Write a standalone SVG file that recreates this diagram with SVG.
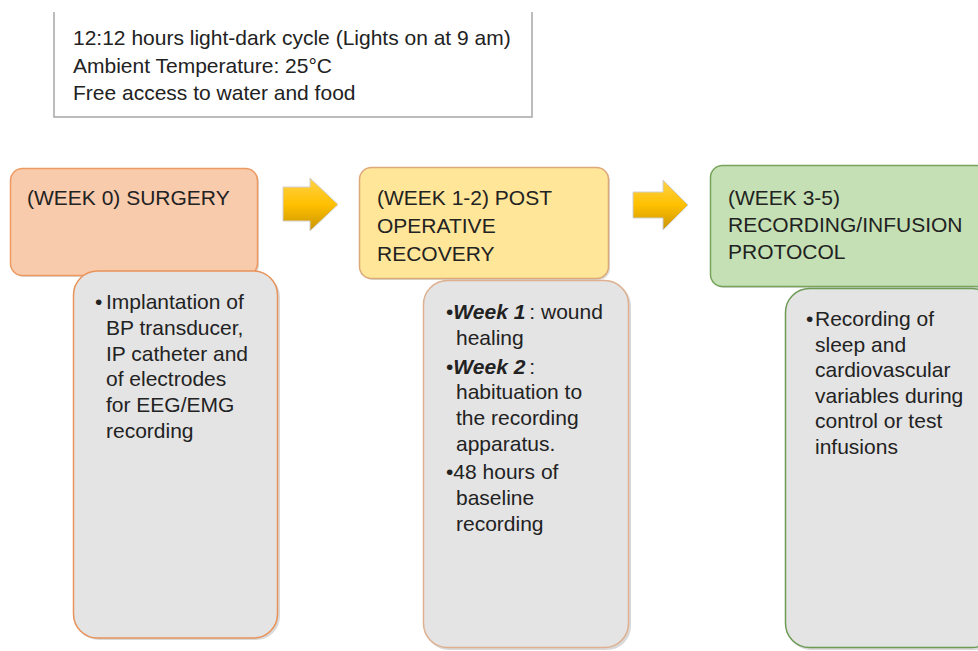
<svg xmlns="http://www.w3.org/2000/svg" width="978" height="651" viewBox="0 0 978 651">
  <defs>
    <linearGradient id="arrowGrad" x1="0" y1="0" x2="0" y2="1">
      <stop offset="0" stop-color="#ffd24a"/>
      <stop offset="0.5" stop-color="#ffc000"/>
      <stop offset="1" stop-color="#c99400"/>
    </linearGradient>
    <style>
      text { font-family: "Liberation Sans", Arial, sans-serif; fill: #222222; }
      .hdr { font-size: 21px; }
      .body { font-size: 21px; }
      .info { font-size: 21px; }
      .shadow { fill: #bfbfbf; opacity: 0.6; }
      .gray { fill: #e4e4e4; stroke-width: 1.5; }
      .arrow { fill: url(#arrowGrad); stroke: #d0d0d0; stroke-width: 1; }
      .bi { font-weight: bold; font-style: italic; }
    </style>
  </defs>
  <rect width="978" height="651" fill="#ffffff"/>

  <g id="conditions">
    <path d="M54,12 V117 H532 V12" fill="#ffffff" stroke="#a6a6a6" stroke-width="1.5"/>
    <text class="info" x="73" y="45">12:12 hours light-dark cycle (Lights on at 9 am)</text>
    <text class="info" x="73" y="73">Ambient Temperature: 25°C</text>
    <text class="info" x="73" y="100">Free access to water and food</text>
  </g>

  <g id="connectors">
    <path class="arrow" d="M283,187 H310 V178 L338,204.5 L310,231 V221 H283 Z"/>
    <path class="arrow" d="M633,192 H663 V180 L688,205 L663,230 V218 H633 Z"/>
  </g>

  <g id="week0-header">
    <rect x="12" y="170" width="247" height="107" rx="12" class="shadow"/>
    <rect x="10.5" y="168.5" width="247" height="107" rx="12" fill="#f8cbad" stroke="#ed9a62" stroke-width="1.5"/>
    <text class="hdr" x="27" y="205">(WEEK 0) SURGERY</text>
  </g>

  <g id="week0-details">
    <rect x="75" y="273" width="205" height="367" rx="24" class="shadow"/>
    <rect x="73.5" y="271" width="204" height="367" rx="24" class="gray" stroke="#e8935a"/>
    <text class="body" x="95" y="309">•</text>
    <text class="body" x="106" y="309">Implantation of</text>
    <text class="body" x="106" y="335">BP transducer,</text>
    <text class="body" x="106" y="361">IP catheter and</text>
    <text class="body" x="106" y="386">of electrodes</text>
    <text class="body" x="106" y="412">for EEG/EMG</text>
    <text class="body" x="106" y="438">recording</text>
  </g>

  <g id="week12-header">
    <rect x="361" y="169" width="249" height="111" rx="12" class="shadow"/>
    <rect x="359.5" y="167.5" width="249" height="111" rx="12" fill="#ffe699" stroke="#dcaa7a" stroke-width="1.5"/>
    <text class="hdr" x="377" y="205">(WEEK 1-2) POST</text>
    <text class="hdr" x="377" y="233">OPERATIVE</text>
    <text class="hdr" x="377" y="261">RECOVERY</text>
  </g>

  <g id="week12-details">
    <rect x="425" y="282" width="206" height="368" rx="24" class="shadow"/>
    <rect x="423.5" y="280.5" width="205" height="367" rx="24" class="gray" stroke="#deb08f"/>
    <text class="body" x="446" y="319">•<tspan class="bi">Week 1</tspan><tspan dx="4">: wound</tspan></text>
    <text class="body" x="456" y="345">healing</text>
    <text class="body" x="446" y="374">•<tspan class="bi">Week 2</tspan><tspan dx="4">:</tspan></text>
    <text class="body" x="456" y="399">habituation to</text>
    <text class="body" x="456" y="425">the recording</text>
    <text class="body" x="456" y="451">apparatus.</text>
    <text class="body" x="446" y="479">•48 hours of</text>
    <text class="body" x="456" y="505">baseline</text>
    <text class="body" x="456" y="531">recording</text>
  </g>

  <g id="week35-header">
    <rect x="712" y="167" width="280" height="121" rx="12" class="shadow"/>
    <rect x="710.5" y="165.5" width="280" height="121" rx="12" fill="#c5e0b4" stroke="#76a45a" stroke-width="1.5"/>
    <text class="hdr" x="728" y="205">(WEEK 3-5)</text>
    <text class="hdr" x="728" y="232">RECORDING/INFUSION</text>
    <text class="hdr" x="728" y="259">PROTOCOL</text>
  </g>

  <g id="week35-details">
    <rect x="787" y="290" width="210" height="360" rx="24" class="shadow"/>
    <rect x="785.5" y="288.5" width="210" height="359" rx="24" class="gray" stroke="#6d9a55"/>
    <text class="body" x="806" y="326">•</text>
    <text class="body" x="815" y="326">Recording of</text>
    <text class="body" x="815" y="352">sleep and</text>
    <text class="body" x="815" y="377">cardiovascular</text>
    <text class="body" x="815" y="403">variables during</text>
    <text class="body" x="815" y="428">control or test</text>
    <text class="body" x="815" y="454">infusions</text>
  </g>
</svg>
